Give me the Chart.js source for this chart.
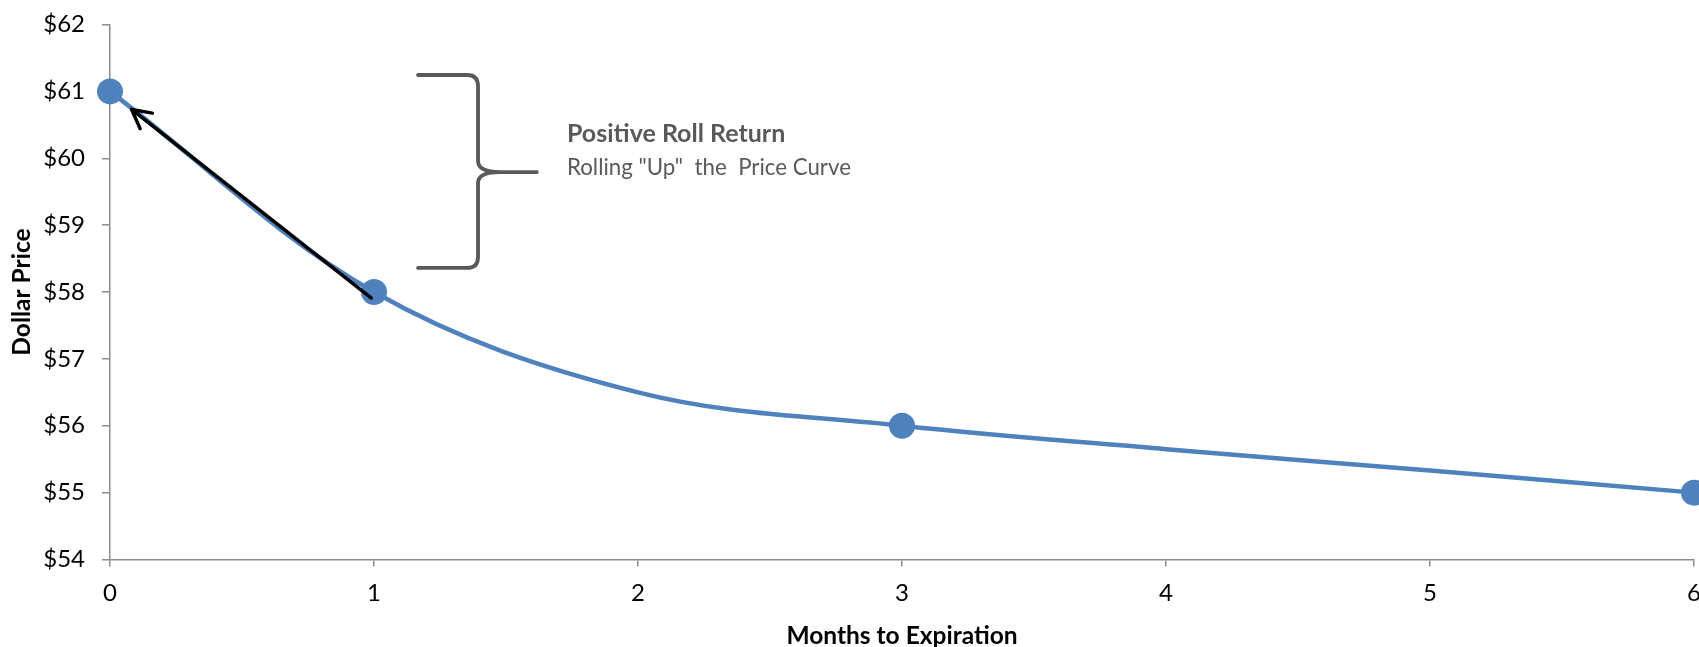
<!DOCTYPE html>
<html>
<head>
<meta charset="utf-8">
<title>Positive Roll Return</title>
<script src="https://cdn.jsdelivr.net/npm/chart.js@4/dist/chart.umd.min.js"></script>
<style>
  html, body { margin: 0; padding: 0; background: #ffffff; }
  #wrap { width: 1699px; height: 647px; }
</style>
</head>
<body>
<div id="wrap"><canvas id="chart" width="1699" height="647"></canvas></div>
<script>
// Months to expiration (category axis) and the futures price at each month
const months = ['0', '1', '2', '3', '4', '5', '6'];
const prices = [61, 58, 56.5, 56, 55.65, 55.33, 55];
// Contracts that are actually marked on the curve
const markedMonths = ['0', '1', '3', '6'];

const yMin = 54;
const yMax = 62;
const yStep = 1;

const xTitle = 'Months to Expiration';
const yTitle = 'Dollar Price';
const noteTitle = 'Positive Roll Return';
const noteText = 'Rolling "Up"  the  Price Curve';

const BLUE = '#4f81bd';
const AXIS = '#8c8c8c';
const NOTE = '#595959';
const FONT = 'Lato, "Open Sans", sans-serif';

// Annotation geometry in axis units (x: month index, y: dollars)
const rollArrow = { from: [0.99, 57.91], to: [0.082, 60.73] };
const brace = { xArm: 1.167, xSpine: 1.394, xTip: 1.617, yTop: 61.245, yTip: 59.794, yBottom: 58.36 };
const noteAnchor = { x: 1.731, yTitle: 60.243, yText: 59.75 };

const annotations = {
  id: 'rollAnnotations',
  afterDatasetsDraw(chart) {
    const { ctx, scales: { x, y } } = chart;
    const px = (v) => x.getPixelForValue(v);
    const py = (v) => y.getPixelForValue(v);

    ctx.save();

    // Arrow along the first roll
    const x0 = px(rollArrow.from[0]), y0 = py(rollArrow.from[1]);
    const x1 = px(rollArrow.to[0]), y1 = py(rollArrow.to[1]);
    ctx.strokeStyle = '#000000';
    ctx.lineWidth = 3.5;
    ctx.lineCap = 'round';
    ctx.lineJoin = 'round';
    ctx.beginPath();
    ctx.moveTo(x0, y0);
    ctx.lineTo(x1, y1);
    ctx.stroke();
    const ang = Math.atan2(y0 - y1, x0 - x1);
    const head = 21, spread = 0.49;
    ctx.beginPath();
    ctx.moveTo(x1 + head * Math.cos(ang - spread), y1 + head * Math.sin(ang - spread));
    ctx.lineTo(x1, y1);
    ctx.lineTo(x1 + head * Math.cos(ang + spread), y1 + head * Math.sin(ang + spread));
    ctx.stroke();

    // Curly brace
    const bA = px(brace.xArm), bS = px(brace.xSpine), bT = px(brace.xTip);
    const yT = py(brace.yTop), yM = py(brace.yTip), yB = py(brace.yBottom);
    const r = 11;
    ctx.strokeStyle = NOTE;
    ctx.lineWidth = 3.8;
    ctx.beginPath();
    ctx.moveTo(bA, yT);
    ctx.lineTo(bS - r, yT);
    ctx.quadraticCurveTo(bS, yT, bS, yT + r);
    ctx.lineTo(bS, yM - r);
    ctx.quadraticCurveTo(bS, yM, bS + 2 * r, yM);
    ctx.lineTo(bT, yM);
    ctx.moveTo(bT, yM);
    ctx.lineTo(bS + 2 * r, yM);
    ctx.quadraticCurveTo(bS, yM, bS, yM + r);
    ctx.lineTo(bS, yB - r);
    ctx.quadraticCurveTo(bS, yB, bS - r, yB);
    ctx.lineTo(bA, yB);
    ctx.stroke();

    // Note text
    ctx.fillStyle = NOTE;
    ctx.textAlign = 'left';
    ctx.textBaseline = 'alphabetic';
    ctx.font = 'bold 25px ' + FONT;
    ctx.fillText(noteTitle, px(noteAnchor.x), py(noteAnchor.yTitle));
    ctx.font = '22.3px ' + FONT;
    ctx.fillText(noteText, px(noteAnchor.x), py(noteAnchor.yText));

    ctx.restore();
  }
};

new Chart(document.getElementById('chart'), {
  type: 'line',
  data: {
    labels: months,
    datasets: [{
      label: 'Futures price',
      data: prices,
      borderColor: BLUE,
      backgroundColor: BLUE,
      borderWidth: 4.5,
      tension: 0.35,
      pointRadius: months.map(m => markedMonths.includes(m) ? 13 : 0),
      pointBackgroundColor: BLUE,
      pointBorderWidth: 0,
      pointHoverRadius: months.map(m => markedMonths.includes(m) ? 13 : 0),
      clip: false
    }]
  },
  options: {
    responsive: false,
    animation: false,
    events: [],
    layout: { autoPadding: false, padding: { top: 24.5, right: 5, left: 0, bottom: 0 } },
    plugins: {
      legend: { display: false },
      tooltip: { enabled: false },
      title: { display: false }
    },
    scales: {
      x: {
        type: 'category',
        offset: false,
        grid: { display: true, drawOnChartArea: false, drawTicks: true, tickLength: 7, color: AXIS, lineWidth: 1.5 },
        border: { display: true, color: AXIS, width: 1.5 },
        ticks: { color: '#000000', font: { family: FONT, size: 24 }, padding: 12, maxRotation: 0, autoSkip: false },
        title: { display: true, text: xTitle, color: '#000000', font: { family: FONT, size: 24.5, weight: 'bold' }, padding: { top: 0, bottom: -4 } },
        afterFit(scale) {
          scale.height = 87.5;
          scale.paddingLeft = 0;
          scale.paddingRight = 0;
        }
      },
      y: {
        min: yMin,
        max: yMax,
        grid: { display: true, drawOnChartArea: false, drawTicks: true, tickLength: 8, color: AXIS, lineWidth: 1.5 },
        border: { display: true, color: AXIS, width: 1.5 },
        ticks: { stepSize: yStep, color: '#000000', font: { family: FONT, size: 24 }, padding: 17, callback: (v) => '$' + v },
        title: { display: true, text: yTitle, color: '#000000', font: { family: FONT, size: 24.5, weight: 'bold' }, padding: { top: 7, bottom: 0 } },
        afterFit(scale) {
          scale.width = 110;
          scale.paddingTop = 0;
          scale.paddingBottom = 0;
        }
      }
    }
  },
  plugins: [annotations]
});
</script>
</body>
</html>
